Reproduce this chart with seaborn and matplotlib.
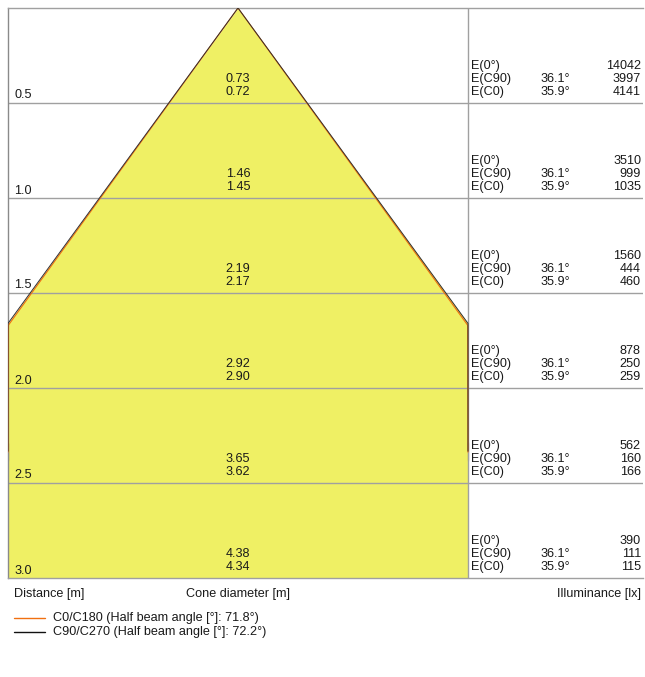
import numpy as np
import pandas as pd
import seaborn as sns
import matplotlib.pyplot as plt
from matplotlib.lines import Line2D

# Cone diagram data
distances = [0.5, 1.0, 1.5, 2.0, 2.5, 3.0]
diam_c90 = ["0.73", "1.46", "2.19", "2.92", "3.65", "4.38"]
diam_c0 = ["0.72", "1.45", "2.17", "2.90", "3.62", "4.34"]
e_center = [14042, 3510, 1560, 878, 562, 390]
e_c90 = [3997, 999, 444, 250, 160, 111]
e_c0 = [4141, 1035, 460, 259, 166, 115]
angle_c90 = "36.1°"
angle_c0 = "35.9°"
beam_c0 = 71.8
beam_c90 = 72.2

sns.set_theme(style="white")
plt.rcParams['font.family'] = ['Liberation Sans', 'DejaVu Sans']

W, H = 645, 677
fig = plt.figure(figsize=(W / 100, H / 100), dpi=100)
ax = fig.add_axes([8 / W, (H - 578) / H, 635 / W, 570 / H])

px = 1 / 190.0  # metres per pixel
half = 230 * px  # half width of the cone panel
ax.set_xlim(-half, 405 * px)
ax.set_ylim(3.0, 0.0)
ax.set_xticks([])
ax.set_yticks([])
ax.spines["right"].set_visible(False)
for s in ["left", "top", "bottom"]:
    ax.spines[s].set_color("#a0a0a0")
    ax.spines[s].set_linewidth(1.0)
ax.spines["left"].set_color("#8a8a8a")

# cone shape
d = np.linspace(0, 3.0, 601)
r90 = np.clip(d * np.tan(np.radians(beam_c90 / 2)), None, half)
r0 = np.clip(d * np.tan(np.radians(beam_c0 / 2)), None, half)
ax.fill_betweenx(d, -r90, r90, color="#eff064", lw=0, zorder=1)

cone = pd.DataFrame({
    "x": np.concatenate([-r0[::-1], r0, -r90[::-1], r90]),
    "y": np.concatenate([d[::-1], d, d[::-1], d]),
    "plane": ["C0"] * (2 * len(d)) + ["C90"] * (2 * len(d)),
})
sns.lineplot(data=cone[cone.plane == "C0"], x="x", y="y", sort=False,
             color="#f07010", lw=0.8, ax=ax, zorder=3)
sns.lineplot(data=cone[cone.plane == "C90"], x="x", y="y", sort=False,
             color="#303030", lw=0.7, ax=ax, zorder=4)
ax.set_xlabel("")
ax.set_ylabel("")

# grid of rows
for dist in distances[:-1]:
    ax.axhline(dist, color="#a0a0a0", lw=1.0, zorder=2)
ax.axvline(half, color="#a0a0a0", lw=1.0, zorder=2)

fs = 9.1
tc = "#1a1a1a"
for i, dist in enumerate(distances):
    ax.text(-half + 6 * px, dist - 4.5 * px, f"{dist:.1f}", fontsize=fs,
            va="baseline", ha="left", color=tc, zorder=5)
    ax.text(0, dist - 21 * px, diam_c90[i], fontsize=fs, va="baseline",
            ha="center", color=tc, zorder=5)
    ax.text(0, dist - 8 * px, diam_c0[i], fontsize=fs, va="baseline",
            ha="center", color=tc, zorder=5)
    xt = half + 3 * px
    ax.text(xt, dist - 34 * px, "E(0°)", fontsize=fs, va="baseline", color=tc)
    ax.text(xt, dist - 21 * px, "E(C90)", fontsize=fs, va="baseline", color=tc)
    ax.text(xt, dist - 8 * px, "E(C0)", fontsize=fs, va="baseline", color=tc)
    ax.text(half + 72 * px, dist - 21 * px, angle_c90, fontsize=fs,
            va="baseline", color=tc)
    ax.text(half + 72 * px, dist - 8 * px, angle_c0, fontsize=fs,
            va="baseline", color=tc)
    xr = half + 173 * px
    ax.text(xr, dist - 34 * px, str(e_center[i]), fontsize=fs,
            va="baseline", ha="right", color=tc)
    ax.text(xr, dist - 21 * px, str(e_c90[i]), fontsize=fs,
            va="baseline", ha="right", color=tc)
    ax.text(xr, dist - 8 * px, str(e_c0[i]), fontsize=fs,
            va="baseline", ha="right", color=tc)

# footer labels
fy = 1 - 594 / H
fig.text(14 / W, fy, "Distance [m]", fontsize=fs, va="center", color=tc)
fig.text(186 / W, fy, "Cone diameter [m]", fontsize=fs, va="center", color=tc)
fig.text(641 / W, fy, "Illuminance [lx]", fontsize=fs, va="center",
         ha="right", color=tc)

legend_items = [
    ("#f07010", f"C0/C180 (Half beam angle [°]: {beam_c0}°)", 618),
    ("#111111", f"C90/C270 (Half beam angle [°]: {beam_c90}°)", 632),
]
for col, lab, yy in legend_items:
    fig.add_artist(Line2D([14 / W, 45 / W], [1 - yy / H, 1 - yy / H],
                          color=col, lw=1.0, transform=fig.transFigure))
    fig.text(53 / W, 1 - (yy + 0.5) / H, lab, fontsize=fs, va="center",
             color=tc)

fig.savefig("out.png", dpi=100)
